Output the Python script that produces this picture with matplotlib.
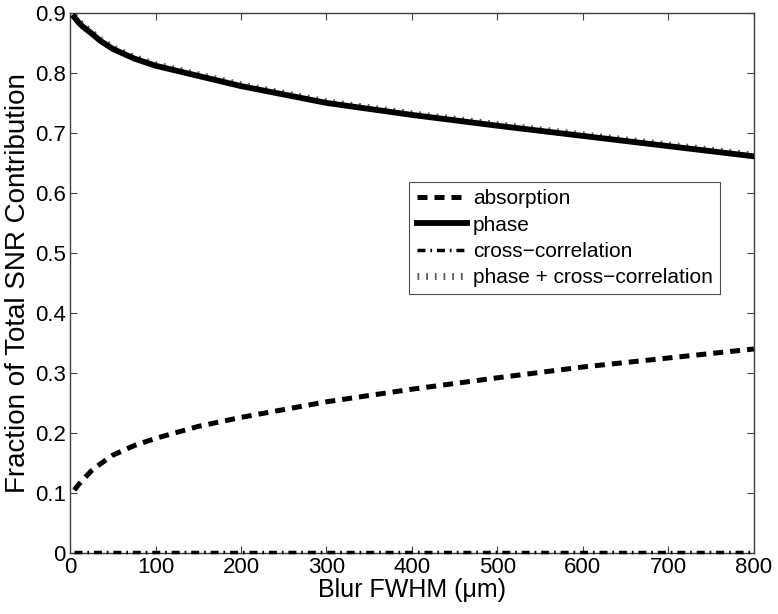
import numpy as np
import matplotlib
matplotlib.use('Agg')
import matplotlib.pyplot as plt

plt.rcParams['font.family'] = ['Liberation Sans', 'DejaVu Sans']

# values
blur = np.array([5, 10, 15, 25, 35, 50, 75, 100, 150, 200, 250, 300, 400, 500, 600, 700, 800])
phase = np.array([0.893, 0.884, 0.877, 0.866, 0.854, 0.840, 0.824, 0.812, 0.795, 0.778, 0.764,
                  0.750, 0.730, 0.712, 0.695, 0.678, 0.661])
absorption = np.array([0.105, 0.114, 0.122, 0.137, 0.148, 0.163, 0.179, 0.191, 0.211, 0.226, 0.239,
                       0.252, 0.273, 0.292, 0.310, 0.325, 0.340])
cross = np.array([0.002, 0.002, 0.002, 0.002, 0.002, 0.002, 0.002, 0.002, 0.002, 0.002, 0.002,
                  0.002, 0.002, 0.002, 0.002, 0.002, 0.002])
phase_cross = phase + cross

xticks = [0, 100, 200, 300, 400, 500, 600, 700, 800]
yticks = [0, 0.1, 0.2, 0.3, 0.4, 0.5, 0.6, 0.7, 0.8, 0.9]
ytick_labels = ['0', '0.1', '0.2', '0.3', '0.4', '0.5', '0.6', '0.7', '0.8', '0.9']

fig = plt.figure(figsize=(7.78, 6.14), dpi=100)
ax = fig.add_axes([0.09, 0.0993, 0.879, 0.8797])

ax.plot(blur, absorption, color='k', lw=3.6, linestyle=(0, (2.0, 1.4)), label='absorption', zorder=3)
ax.plot(blur, phase, color='k', lw=4.2, linestyle='-', label='phase', zorder=4)
ax.plot(blur, cross, color='k', lw=2.5, linestyle=(0, (2.3, 1.4, 0.5, 1.4)),
        label='cross\u2212correlation', zorder=3, clip_on=False)
ax.plot(blur, phase_cross, color='0.35', lw=5, linestyle=(0, (0.25, 1.0)),
        label='phase + cross\u2212correlation', zorder=2)

ax.set_xlim(0, 800)
ax.set_ylim(0, 0.9)
ax.set_xticks(xticks)
ax.set_yticks(yticks)
ax.set_yticklabels(ytick_labels)
ax.tick_params(direction='in', top=True, right=True, length=5, width=0.8,
               labelsize=16, color='0.25', pad=3)
for s in ax.spines.values():
    s.set_color('0.25')
    s.set_linewidth(1.0)

ax.set_xlabel('Blur FWHM (\u03bcm)', fontsize=18, labelpad=0)
ax.set_ylabel('Fraction of Total SNR Contribution', fontsize=20, labelpad=3)

leg = ax.legend(loc='upper left', bbox_to_anchor=(0.496, 0.687), fontsize=15,
                handlelength=2.4, handletextpad=0.3, borderpad=0.35, labelspacing=0.35,
                fancybox=False, framealpha=1, edgecolor='0.3', borderaxespad=0)
leg.get_frame().set_linewidth(0.8)

fig.savefig('out.png', dpi=100)
